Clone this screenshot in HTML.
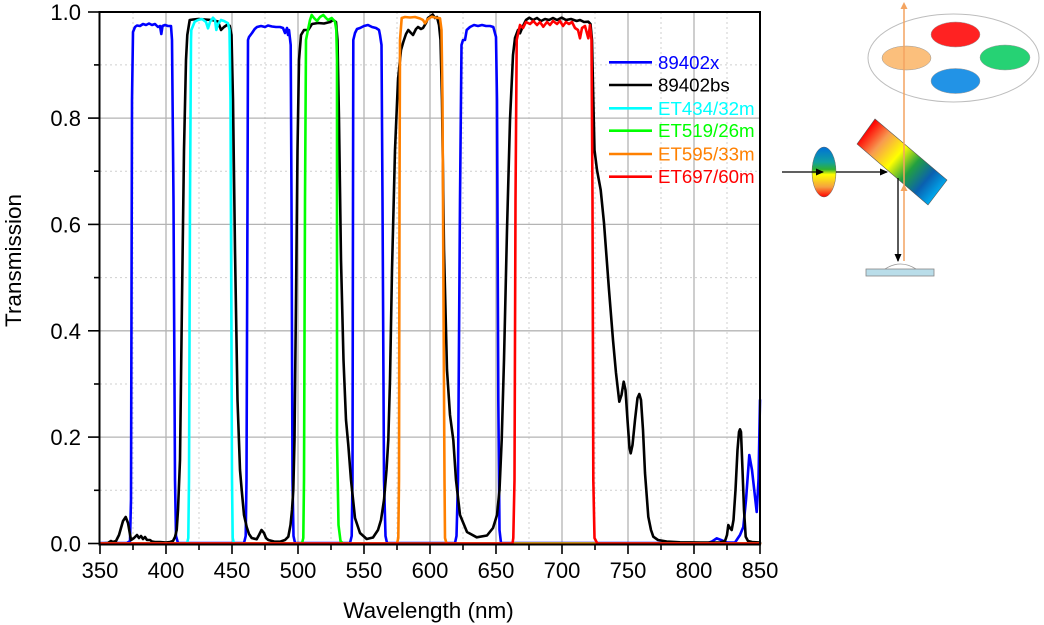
<!DOCTYPE html>
<html>
<head>
<meta charset="utf-8">
<style>
html,body{margin:0;padding:0;background:#fff;}
svg{display:block;}
text{font-family:"Liberation Sans",Arial,sans-serif;}
</style>
</head>
<body>
<svg width="1044" height="625" viewBox="0 0 1044 625" xmlns="http://www.w3.org/2000/svg">
<defs>
  <linearGradient id="mir" gradientUnits="userSpaceOnUse" x1="866" y1="131" x2="938" y2="193">
    <stop offset="0" stop-color="#ff0000"/>
    <stop offset="0.2" stop-color="#f79a50"/>
    <stop offset="0.42" stop-color="#ffff00"/>
    <stop offset="0.62" stop-color="#22a040"/>
    <stop offset="0.82" stop-color="#0a60b0"/>
    <stop offset="1" stop-color="#00aaee"/>
  </linearGradient>
  <linearGradient id="lens" x1="0" y1="0" x2="0" y2="1">
    <stop offset="0" stop-color="#0070d8"/>
    <stop offset="0.3" stop-color="#10a0a0"/>
    <stop offset="0.45" stop-color="#30b030"/>
    <stop offset="0.55" stop-color="#ffff00"/>
    <stop offset="0.8" stop-color="#f5a040"/>
    <stop offset="1" stop-color="#ff0000"/>
  </linearGradient>
  <marker id="ab" markerWidth="8" markerHeight="8" refX="7" refY="4" orient="auto" markerUnits="userSpaceOnUse">
    <path d="M0,0.5 L8,4 L0,7.5 Z" fill="#000"/>
  </marker>
</defs>

<!-- minor grid -->
<g stroke="#cfcfcf" stroke-width="1" stroke-dasharray="2,3">
  <line x1="133" y1="12" x2="133" y2="544"/>
  <line x1="199" y1="12" x2="199" y2="544"/>
  <line x1="265" y1="12" x2="265" y2="544"/>
  <line x1="331" y1="12" x2="331" y2="544"/>
  <line x1="397" y1="12" x2="397" y2="544"/>
  <line x1="463" y1="12" x2="463" y2="544"/>
  <line x1="529" y1="12" x2="529" y2="544"/>
  <line x1="595" y1="12" x2="595" y2="544"/>
  <line x1="661" y1="12" x2="661" y2="544"/>
  <line x1="727" y1="12" x2="727" y2="544"/>
  <line x1="100" y1="490.3" x2="760" y2="490.3"/>
  <line x1="100" y1="384" x2="760" y2="384"/>
  <line x1="100" y1="277.6" x2="760" y2="277.6"/>
  <line x1="100" y1="171.2" x2="760" y2="171.2"/>
  <line x1="100" y1="64.9" x2="760" y2="64.9"/>
</g>
<!-- major grid -->
<g stroke="#b4b4b4" stroke-width="1.3">
  <line x1="166" y1="12" x2="166" y2="544"/>
  <line x1="232" y1="12" x2="232" y2="544"/>
  <line x1="298" y1="12" x2="298" y2="544"/>
  <line x1="364" y1="12" x2="364" y2="544"/>
  <line x1="430" y1="12" x2="430" y2="544"/>
  <line x1="496" y1="12" x2="496" y2="544"/>
  <line x1="562" y1="12" x2="562" y2="544"/>
  <line x1="628" y1="12" x2="628" y2="544"/>
  <line x1="694" y1="12" x2="694" y2="544"/>
  <line x1="100" y1="437.1" x2="760" y2="437.1"/>
  <line x1="100" y1="330.8" x2="760" y2="330.8"/>
  <line x1="100" y1="224.4" x2="760" y2="224.4"/>
  <line x1="100" y1="118.1" x2="760" y2="118.1"/>
</g>

<!-- series -->
<g fill="none" stroke-width="2.6" stroke-linejoin="round" stroke-linecap="round">
<path stroke="#0000ff" d="M100,543 L127,543 L130,541 L131,500 L132,100 L133,32 L135,27 L137,25.5 L140,26 L143,24 L146,25 L149,23.5 L152,25 L155,24 L158,27 L160,26 L161.3,34 L162.5,26 L165,25 L168,26 L171,26 L172,40 L173.5,200 L175,480 L176,536 L178,543 L244,543 L245.7,536 L246.5,480 L247.5,200 L248,40 L249,37 L252,33 L254.7,29 L257,27 L261,26 L265,27 L268,25.5 L272,26.5 L276,27 L280,27 L283,28 L285,33 L287,28 L288,35 L289,30 L290.7,45 L291.5,200 L292.5,480 L293.5,536 L295,543 L350,543 L351.7,536 L352.5,480 L353,200 L353.3,40 L355,33 L357,29 L360,28 L364,26 L368,25 L372,27 L376,28 L379,30 L380,35 L381.5,45 L382.5,200 L384,480 L385.5,536 L387,543 L455,543 L456.5,536 L458,480 L460,200 L461.5,45 L463,40 L465,40 L466.7,30 L470,27 L474,25 L478,26 L482,25 L486,26 L490,26 L493.3,27 L496,37 L497,100 L498.3,400 L499.5,530 L501,543 L708,543 L712,541.5 L716.7,538.3 L721,540 L727,542.5 L735,542.5 L740,535 L743.3,527 L746,500 L749.3,455 L752,470 L756.7,512 L758.5,480 L760,400"/>
<path stroke="#000000" d="M100,543.5 L108,543 L111,541 L113,542 L116,541 L119,535 L123,521 L125.7,517 L128,523 L131,540 L134,538 L137,535 L139,538 L141,536 L143,539 L145,537 L147,540 L150,540 L152,541.5 L155,542 L160,542 L166,542.5 L170,542 L173,541 L175,537 L176.7,530 L178,510 L180,460 L182,300 L184,150 L186,60 L187.3,35 L189.7,20 L193,19.5 L198,19 L205,19.5 L212,20 L218,21.5 L221,30 L224,27 L227,25 L229.7,25.7 L231.5,35 L233,100 L235,250 L237.5,400 L240,470 L241.7,490 L244,515 L246.7,527 L249,534 L251.7,538 L256.7,539.3 L259,535 L261.5,530 L264,533 L266,538 L268.3,540 L274,541.5 L280,541.7 L285,540 L288.3,536.7 L290.5,525 L292,510 L293.3,490 L294.5,440 L296,300 L297.5,150 L299,60 L301,35 L304,30 L308.3,30 L312,24 L318,23 L324,23.5 L330,22 L333.3,20 L336,22 L337.5,40 L339,120 L341,260 L343.5,360 L346,420 L348.3,445 L351,480 L355,518 L360,533 L366.7,539 L373,537.5 L378,530 L381,520 L384,500 L386.5,470 L388.3,440 L390,380 L392,270 L395,150 L398,80 L401,50 L403.3,42 L406,34 L408.3,30 L411,33 L413,35 L416,29 L418,27 L421,29 L423,28 L426,23 L428,18 L431,16 L432.7,14.5 L435,18 L437,17 L439,25 L440.5,40 L442,100 L444,250 L447,370 L450,415 L453.3,440 L456,480 L460,515 L467,532 L476.7,537.3 L487,535.5 L493,528 L497,515 L499.5,490 L501.7,440 L504,360 L507,230 L510,120 L513,55 L515,38 L518,30 L520,33.3 L523,26 L526,20 L529.3,17.7 L533,20 L537,18 L541,21 L545,19 L549,20 L553,18 L557,20 L561.7,17.7 L566,20 L571,19 L576.7,21 L580,20 L584,22 L588.3,21.7 L590.5,24 L592,40 L593.3,100 L594.5,150 L597,170 L600.7,190 L604,223 L609,290 L613,340 L616,373 L619.3,401.7 L621.5,395 L623.7,381.7 L625.5,390 L627.5,420 L629.5,448 L630.7,453.3 L632.5,445 L635,420 L637.5,398 L639.3,394 L641,400 L643,430 L645,473 L648.3,516.7 L651,530 L653.3,536.7 L658,540 L666.7,541.5 L680,542.3 L700,542.5 L720,542.5 L725,541 L727,535 L728.3,525 L730,528 L731.7,530 L733.5,520 L735.5,490 L737.5,450 L739,432 L740,429.3 L741,432 L742.5,470 L744,510 L745.7,536.7 L748,541 L752,542 L760,542.5"/>
<path stroke="#00ffff" d="M100,543.5 L187,543.5 L188.3,538 L189,480 L190,200 L191,40 L191.3,30 L194.7,21.7 L198,20 L202,19 L206,22 L208,28.3 L210,22 L213,17.7 L215,20 L216.3,30 L218,24 L221,20 L224,21 L228,23.3 L229.5,30 L230.5,100 L231.3,300 L232,480 L232.7,538 L234,543.5 L760,543.5"/>
<path stroke="#00ff00" d="M100,543.5 L302,543.5 L303.3,538 L304,480 L305,200 L306,40 L308.3,28.3 L310,20 L311.7,15 L314,18 L317,21 L320,17 L323.3,15 L326,18 L328,20 L331.7,18 L333.5,20 L335,21.7 L336.3,30 L337,60 L337,440 L338.5,525 L340.5,541 L343,543.5 L760,543.5"/>
<path stroke="#ff8000" d="M100,543.5 L397,543.5 L398.3,538 L399,480 L399.5,200 L400,40 L401.7,18 L405,17 L410,17.5 L415,17 L420,18.5 L423,20 L425,23.3 L428,19 L431.7,16.7 L435,17.5 L440,18.3 L441.5,30 L442.5,100 L443.5,300 L444.5,480 L445,538 L446.5,543.5 L760,543.5"/>
<path stroke="#ff0000" d="M100,543.5 L512.5,543.5 L513.3,538 L514.5,480 L515.5,200 L516.7,40 L520,25 L523,28 L526,22 L530,24 L533.3,21 L537,25 L540,22 L543.3,26.7 L547,22 L550,25 L553,21 L557,24 L560,21 L563,26 L566,22 L569,24 L572,22 L575,28 L578,30 L580,38.3 L582,28 L585,26 L588.3,38.3 L590,25 L591.5,40 L592.5,200 L593.3,480 L594.5,538 L597.3,543.5 L760,543.5"/>
</g>

<!-- axes frame -->
<g stroke="#000" stroke-width="2" fill="none">
  <line x1="99.5" y1="11" x2="99.5" y2="545"/>
  <line x1="98.5" y1="544.5" x2="761" y2="544.5"/>
  <line x1="98.5" y1="12" x2="761" y2="12"/>
  <line x1="760" y1="11" x2="760" y2="545"/>
</g>
<!-- ticks -->
<g stroke="#000" stroke-width="1.6">
  <line x1="88" y1="543.5" x2="99" y2="543.5"/>
  <line x1="88" y1="437.1" x2="99" y2="437.1"/>
  <line x1="88" y1="330.8" x2="99" y2="330.8"/>
  <line x1="88" y1="224.4" x2="99" y2="224.4"/>
  <line x1="88" y1="118.1" x2="99" y2="118.1"/>
  <line x1="88" y1="12" x2="99" y2="12"/>
  <line x1="94" y1="490.3" x2="99" y2="490.3"/>
  <line x1="94" y1="384" x2="99" y2="384"/>
  <line x1="94" y1="277.6" x2="99" y2="277.6"/>
  <line x1="94" y1="171.2" x2="99" y2="171.2"/>
  <line x1="94" y1="64.9" x2="99" y2="64.9"/>
  <line x1="100" y1="545" x2="100" y2="554"/>
  <line x1="166" y1="545" x2="166" y2="554"/>
  <line x1="232" y1="545" x2="232" y2="554"/>
  <line x1="298" y1="545" x2="298" y2="554"/>
  <line x1="364" y1="545" x2="364" y2="554"/>
  <line x1="430" y1="545" x2="430" y2="554"/>
  <line x1="496" y1="545" x2="496" y2="554"/>
  <line x1="562" y1="545" x2="562" y2="554"/>
  <line x1="628" y1="545" x2="628" y2="554"/>
  <line x1="694" y1="545" x2="694" y2="554"/>
  <line x1="760" y1="545" x2="760" y2="554"/>
  <line x1="133" y1="545" x2="133" y2="550"/>
  <line x1="199" y1="545" x2="199" y2="550"/>
  <line x1="265" y1="545" x2="265" y2="550"/>
  <line x1="331" y1="545" x2="331" y2="550"/>
  <line x1="397" y1="545" x2="397" y2="550"/>
  <line x1="463" y1="545" x2="463" y2="550"/>
  <line x1="529" y1="545" x2="529" y2="550"/>
  <line x1="595" y1="545" x2="595" y2="550"/>
  <line x1="661" y1="545" x2="661" y2="550"/>
  <line x1="727" y1="545" x2="727" y2="550"/>
</g>

<!-- tick labels -->
<g font-size="22" fill="#000" text-anchor="end">
  <text x="81" y="551.5">0.0</text>
  <text x="81" y="445">0.2</text>
  <text x="81" y="338.8">0.4</text>
  <text x="81" y="232.4">0.6</text>
  <text x="81" y="126">0.8</text>
  <text x="81" y="20">1.0</text>
</g>
<g font-size="22" fill="#000" text-anchor="middle">
  <text x="100" y="578">350</text>
  <text x="166" y="578">400</text>
  <text x="232" y="578">450</text>
  <text x="298" y="578">500</text>
  <text x="364" y="578">550</text>
  <text x="430" y="578">600</text>
  <text x="496" y="578">650</text>
  <text x="562" y="578">700</text>
  <text x="628" y="578">750</text>
  <text x="694" y="578">800</text>
  <text x="760" y="578">850</text>
</g>
<text x="428.5" y="618" font-size="22.5" text-anchor="middle" fill="#000">Wavelength (nm)</text>
<text x="21" y="260.5" font-size="22.5" text-anchor="middle" fill="#000" transform="rotate(-90 21 260.5)">Transmission</text>

<!-- legend -->
<g stroke-width="2.6">
  <line x1="609" y1="62.3" x2="652" y2="62.3" stroke="#0000ff"/>
  <line x1="609" y1="85" x2="652" y2="85" stroke="#000000"/>
  <line x1="609" y1="108.3" x2="652" y2="108.3" stroke="#00ffff"/>
  <line x1="609" y1="130.7" x2="652" y2="130.7" stroke="#00ff00"/>
  <line x1="609" y1="154" x2="652" y2="154" stroke="#ff8000"/>
  <line x1="609" y1="176.7" x2="652" y2="176.7" stroke="#ff0000"/>
</g>
<g font-size="18.7">
  <text x="658" y="68.8" fill="#0000ff">89402x</text>
  <text x="658" y="91.5" fill="#000000">89402bs</text>
  <text x="658" y="114.8" fill="#00ffff">ET434/32m</text>
  <text x="658" y="137.2" fill="#00ff00">ET519/26m</text>
  <text x="658" y="160.5" fill="#ff8000">ET595/33m</text>
  <text x="658" y="183.2" fill="#ff0000">ET697/60m</text>
</g>

<!-- diagram -->
<ellipse cx="953.5" cy="58" rx="85.5" ry="44" fill="#fff" stroke="#bdbdbd" stroke-width="1"/>
<ellipse cx="955.5" cy="34.5" rx="24.5" ry="12.5" fill="#ff2222" stroke="#999" stroke-width="0.5"/>
<ellipse cx="906.5" cy="58" rx="24.5" ry="12" fill="#fbbf7c" stroke="#999" stroke-width="0.5"/>
<ellipse cx="1005" cy="57.5" rx="25" ry="12.5" fill="#26d274" stroke="#999" stroke-width="0.5"/>
<ellipse cx="955.5" cy="81" rx="24.5" ry="12.5" fill="#2293e6" stroke="#999" stroke-width="0.5"/>

<polygon points="857,144 875,119 947,180 928,205" fill="url(#mir)" stroke="#555" stroke-width="0.6"/>

<!-- orange beam -->
<line x1="904" y1="6" x2="904" y2="261" stroke="#f4a460" stroke-width="1.5"/>
<path d="M900.5,9 L904,2 L907.5,9 Z" fill="#f4a460"/>
<path d="M900.5,191 L904,184 L907.5,191 Z" fill="#f4a460"/>

<!-- lens -->
<ellipse cx="824" cy="172" rx="12" ry="25" fill="url(#lens)" stroke="#666" stroke-width="0.5"/>

<!-- black beams -->
<line x1="782" y1="172" x2="823" y2="172" stroke="#000" stroke-width="1.3" marker-end="url(#ab)"/>
<line x1="836" y1="172" x2="887" y2="172" stroke="#000" stroke-width="1.3" marker-end="url(#ab)"/>
<line x1="898" y1="178" x2="898" y2="261" stroke="#000" stroke-width="1.3" marker-end="url(#ab)"/>

<!-- slide -->
<path d="M885,269 Q900.5,259 916,269" fill="#fff" stroke="#999" stroke-width="0.8"/>
<rect x="866" y="269" width="68" height="7" fill="#b9dde9" stroke="#888" stroke-width="0.8"/>
</svg>
</body>
</html>
